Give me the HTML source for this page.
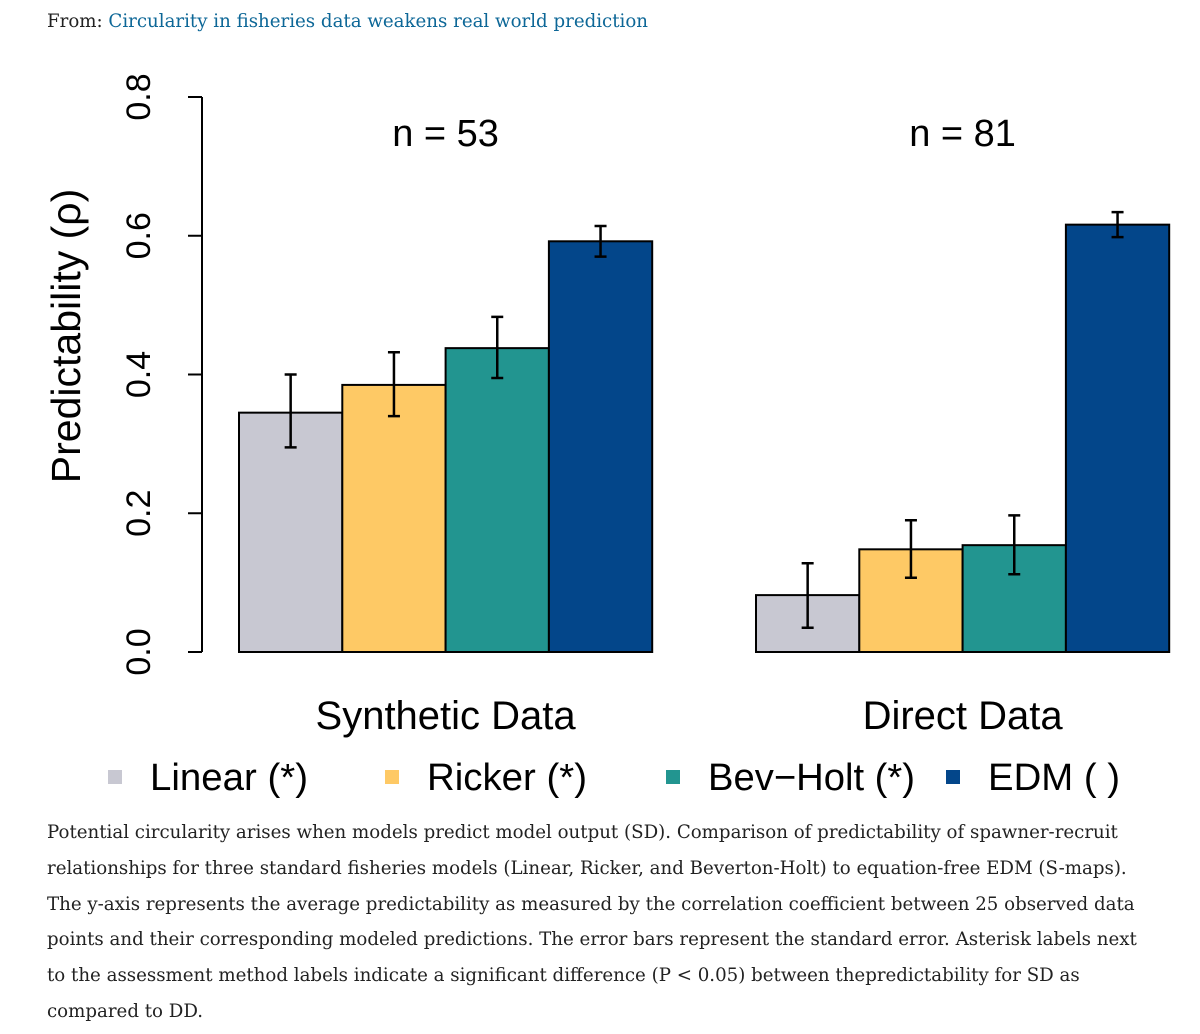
<!DOCTYPE html>
<html><head><meta charset="utf-8"><style>
body{margin:0;width:1200px;height:1034px;background:#fff;overflow:hidden;}
.from{position:absolute;left:47px;top:11px;font:18.2px "DejaVu Serif",serif;color:#222;white-space:nowrap;}
.from a{color:#0d6797;text-decoration:none;}
.cap{position:absolute;left:47px;top:815px;width:1150px;font:18.2px/35.8px "DejaVu Serif",serif;color:#222;white-space:nowrap;}
svg{position:absolute;left:0;top:0;}
</style></head><body>
<div class="from">From: <a>Circularity in fisheries data weakens real world prediction</a></div>
<svg width="1200" height="810" id="chart" font-family="Liberation Sans, sans-serif"></svg>
<div class="cap">Potential circularity arises when models predict model output (SD). Comparison of predictability of spawner-recruit<br>relationships for three standard fisheries models (Linear, Ricker, and Beverton-Holt) to equation-free EDM (S-maps).<br>The y-axis represents the average predictability as measured by the correlation coefficient between 25 observed data<br>points and their corresponding modeled predictions. The error bars represent the standard error. Asterisk labels next<br>to the assessment method labels indicate a significant difference (P &lt; 0.05) between thepredictability for SD as<br>compared to DD.</div>
<script>
const groups=["Synthetic Data","Direct Data"];
const groupN=["n = 53","n = 81"];
const series=["Linear (*)","Ricker (*)","Bev\u2212Holt (*)","EDM ( )"];
const colors=["#c8c8d2","#fec965","#229590","#03468a"];
const values=[[0.345,0.385,0.438,0.592],[0.082,0.148,0.154,0.616]];
const errLo=[[0.295,0.340,0.395,0.570],[0.035,0.107,0.112,0.598]];
const errHi=[[0.400,0.432,0.483,0.614],[0.128,0.190,0.197,0.634]];
const ticks=[0,0.2,0.4,0.6,0.8];
const tickLabels=["0.0","0.2","0.4","0.6","0.8"];
const svg=document.getElementById('chart');const NS="http://www.w3.org/2000/svg";
function mk(t,a,p){const e=document.createElementNS(NS,t);for(const k in a)e.setAttribute(k,a[k]);(p||svg).appendChild(e);return e;}
const y=v=>652-v*(652-97)/0.8;
const groupX=[239,756],bw=103.3;
const ax=mk('line',{x1:202,x2:202,y1:y(0),y2:y(0.8),stroke:'#000','stroke-width':2});

ticks.forEach((t,i)=>{
 const l=mk('line',{x1:188,x2:202,y1:y(t),y2:y(t),stroke:'#000','stroke-width':2});
 
 const tx=mk('text',{x:0,y:0,'font-size':34,'text-anchor':'middle',transform:`translate(150,${y(t)}) rotate(-90)`});
 tx.textContent=tickLabels[i];
 
});
const yt=mk('text',{x:0,y:0,'font-size':41,'text-anchor':'middle',transform:'translate(80,336) rotate(-90)'});
yt.textContent='Predictability (\u03C1)';

groups.forEach((g,gi)=>{
 values[gi].forEach((v,si)=>{
  const x0=groupX[gi]+si*bw;
  const r=mk('rect',{x:x0,y:y(v),width:bw,height:y(0)-y(v),fill:colors[si],stroke:'#000','stroke-width':2});
  
  const cx=x0+bw/2;
  const e=mk('path',{d:`M${cx},${y(errLo[gi][si])}V${y(errHi[gi][si])}M${cx-6},${y(errLo[gi][si])}h12M${cx-6},${y(errHi[gi][si])}h12`,stroke:'#000','stroke-width':2.5,fill:'none'});
  
 });
 const cxg=groupX[gi]+2*bw;
 const n=mk('text',{x:cxg,y:146,'font-size':38,'text-anchor':'middle'});n.textContent=groupN[gi];
 
 const gl=mk('text',{x:cxg,y:729,'font-size':40,'text-anchor':'middle'});gl.textContent=g;
 
});
const legX=[108,385,666,946],legW=[158,160,207,132];
series.forEach((s,i)=>{
 const r=mk('rect',{x:legX[i],y:770,width:14,height:14,fill:colors[i]});
 
 const t=mk('text',{x:legX[i]+42,y:790,'font-size':38,textLength:legW[i],lengthAdjust:'spacingAndGlyphs'});t.textContent=s;
 
});
</script>
</body></html>
